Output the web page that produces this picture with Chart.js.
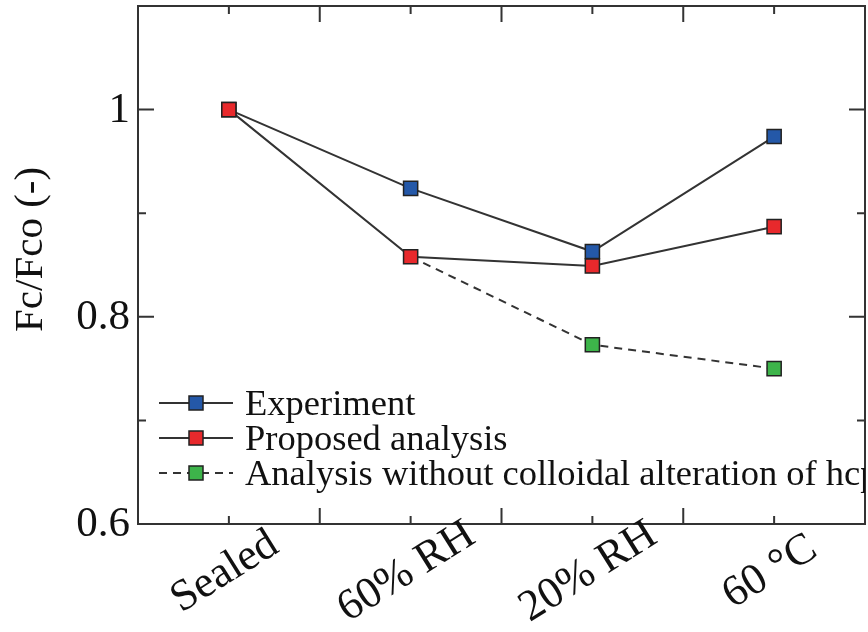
<!DOCTYPE html>
<html>
<head>
<meta charset="utf-8">
<script src="https://cdn.jsdelivr.net/npm/chart.js@4"></script>
<style>
  html, body { margin: 0; padding: 0; background: #fff; }
  #wrap { width: 868px; height: 632px; }
</style>
</head>
<body>
<div id="wrap"><canvas id="chart" width="868" height="632"></canvas></div>
<script>
// categories and series
const categories = ['Sealed', '60% RH', '20% RH', '60 \u00B0C'];
const experiment = [1.0, 0.924, 0.863, 0.974];
const proposed = [1.0, 0.858, 0.849, 0.887];
const withoutColloidal = [null, 0.858, 0.773, 0.750];
const seriesNames = ['Experiment', 'Proposed analysis', 'Analysis without colloidal alteration of hcp'];
const yLabelled = [0.6, 0.8, 1.0];
const yTitle = 'Fc/Fco (-)';

const serif = '"Liberation Serif", "Times New Roman", serif';
const ink = '#333333';
const blue = '#2458a8';
const red = '#e8292c';
const green = '#3db44a';

// frame, inward ticks, tick labels, axis title and the inset legend
const decorations = {
    id: 'decorations',
    afterDraw(chart) {
        const ctx = chart.ctx;
        const area = chart.chartArea;
        const x = chart.scales.x;
        const y = chart.scales.y;
        ctx.save();
        ctx.strokeStyle = ink;
        ctx.lineWidth = 2;
        ctx.strokeRect(area.left, area.top, area.right - area.left, area.bottom - area.top);

        ctx.beginPath();
        // x ticks: long between categories, short on them
        for (let i = 0; i < categories.length; i++) {
            const px = x.getPixelForValue(i);
            ctx.moveTo(px, area.bottom); ctx.lineTo(px, area.bottom - 8);
            ctx.moveTo(px, area.top); ctx.lineTo(px, area.top + 8);
            if (i < categories.length - 1) {
                const bx = x.getPixelForValue(i + 0.5);
                ctx.moveTo(bx, area.bottom); ctx.lineTo(bx, area.bottom - 16);
                ctx.moveTo(bx, area.top); ctx.lineTo(bx, area.top + 16);
            }
        }
        // y ticks: long on labelled values, short halfway
        y.ticks.forEach(t => {
            const tenth = Math.round(t.value * 10);
            if (tenth >= 11) return;
            const py = y.getPixelForValue(t.value);
            const len = tenth % 2 === 0 ? 16 : 8;
            ctx.moveTo(area.left, py); ctx.lineTo(area.left + len, py);
            ctx.moveTo(area.right, py); ctx.lineTo(area.right - len, py);
        });
        ctx.stroke();

        ctx.fillStyle = '#111';

        // y tick labels
        ctx.font = '43px ' + serif;
        ctx.textAlign = 'right';
        ctx.textBaseline = 'middle';
        yLabelled.forEach(v => {
            ctx.fillText(String(v), area.left - 8, y.getPixelForValue(v) + 1);
        });

        // y title
        ctx.save();
        ctx.font = '41px ' + serif;
        ctx.textAlign = 'center';
        ctx.translate(31, y.getPixelForValue(0.865));
        ctx.rotate(-Math.PI / 2);
        ctx.fillText(yTitle, 0, 0);
        ctx.restore();

        // category labels
        ctx.font = '44px ' + serif;
        ctx.textAlign = 'center';
        ctx.textBaseline = 'middle';
        categories.forEach((c, i) => {
            const px = x.getPixelForValue(i) - 4;
            ctx.save();
            ctx.translate(px, area.bottom + 48);
            ctx.rotate(-32 * Math.PI / 180);
            ctx.fillText(c, 0, 0);
            ctx.restore();
        });

        // legend
        const styles = [
            { color: blue, dash: [] },
            { color: red, dash: [] },
            { color: green, dash: [8, 6] }
        ];
        ctx.save();
        ctx.beginPath();
        ctx.rect(area.left, area.top, area.right - area.left, area.bottom - area.top);
        ctx.clip();
        ctx.font = '36.5px ' + serif;
        ctx.textAlign = 'left';
        ctx.textBaseline = 'middle';
        seriesNames.forEach((name, i) => {
            const cy = 403 + i * 35;
            ctx.strokeStyle = ink;
            ctx.lineWidth = 2;
            ctx.setLineDash(styles[i].dash);
            ctx.beginPath();
            ctx.moveTo(area.left + 21, cy);
            ctx.lineTo(area.left + 95, cy);
            ctx.stroke();
            ctx.setLineDash([]);
            ctx.fillStyle = styles[i].color;
            ctx.fillRect(area.left + 51, cy - 7, 14, 14);
            ctx.lineWidth = 1.5;
            ctx.strokeStyle = '#222';
            ctx.strokeRect(area.left + 51, cy - 7, 14, 14);
            ctx.fillStyle = '#111';
            ctx.fillText(name, area.left + 107, cy + 2);
        });
        ctx.restore();
        ctx.restore();
    }
};

const lineSet = (label, data, color, order, extra) => Object.assign({
    label: label,
    data: data,
    order: order,
    borderColor: ink,
    borderWidth: 2,
    pointStyle: 'rect',
    pointRadius: 10,
    pointHoverRadius: 10,
    pointBackgroundColor: color,
    pointBorderColor: '#222',
    pointBorderWidth: 1.5,
    tension: 0,
    fill: false,
    clip: false
}, extra || {});

new Chart(document.getElementById('chart').getContext('2d'), {
    type: 'line',
    data: {
        labels: categories,
        datasets: [
            lineSet(seriesNames[0], experiment, blue, 1),
            lineSet(seriesNames[1], proposed, red, 0),
            lineSet(seriesNames[2], withoutColloidal, green, 2, {
                borderDash: [8, 6],
                borderWidth: 2,
                pointRadius: [0, 0, 10, 10],
                pointHoverRadius: [0, 0, 10, 10]
            })
        ]
    },
    options: {
        responsive: false,
        animation: false,
        events: [],
        layout: { autoPadding: false, padding: { top: 6, right: 3, left: 0, bottom: 0 } },
        plugins: {
            legend: { display: false },
            tooltip: { enabled: false }
        },
        scales: {
            x: {
                type: 'category',
                offset: true,
                grid: { display: false, drawTicks: false },
                border: { display: false },
                ticks: { display: false },
                afterFit(scale) { scale.height = 108; }
            },
            y: {
                min: 0.6,
                max: 1.1,
                grid: { display: false, drawTicks: false },
                border: { display: false },
                ticks: { display: false, stepSize: 0.1 },
                afterFit(scale) { scale.width = 138; }
            }
        }
    },
    plugins: [decorations]
});
</script>
</body>
</html>
